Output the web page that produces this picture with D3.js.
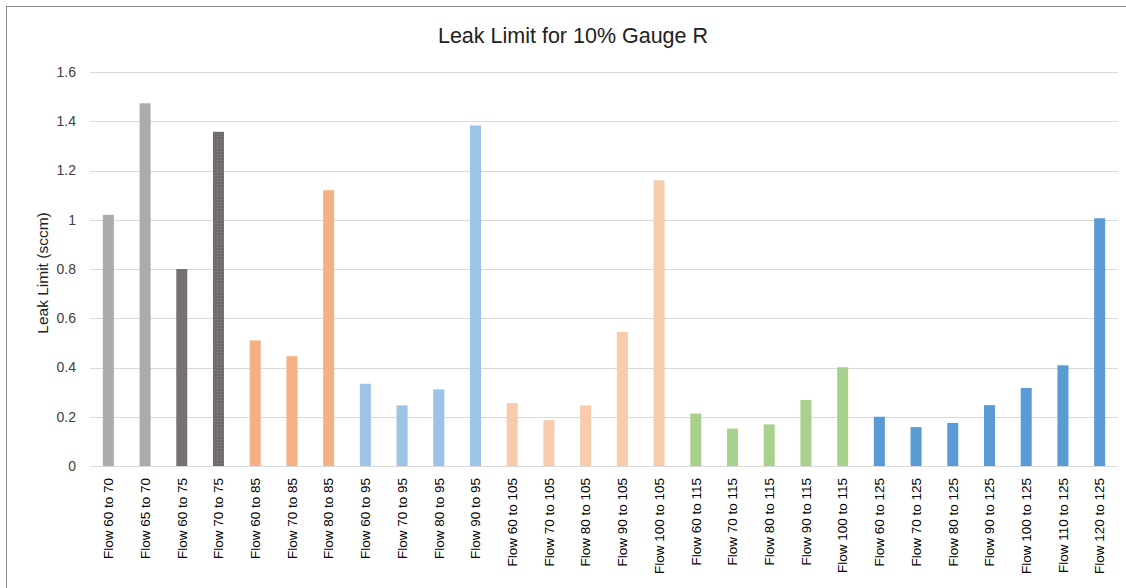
<!DOCTYPE html>
<html><head><meta charset="utf-8">
<script src="https://cdn.jsdelivr.net/npm/d3@7"></script>
<style>body{margin:0;background:#fff}svg{display:block}text{font-family:"Liberation Sans",Arial,sans-serif}</style>
</head><body>
<svg id="c" width="1126" height="588"></svg>
<script>
const categories = ["Flow 60 to 70","Flow 65 to 70","Flow 60 to 75","Flow 70 to 75","Flow 60 to 85","Flow 70 to 85","Flow 80 to 85","Flow 60 to 95","Flow 70 to 95","Flow 80 to 95","Flow 90 to 95","Flow 60 to 105","Flow 70 to 105","Flow 80 to 105","Flow 90 to 105","Flow 100 to 105","Flow 60 to 115","Flow 70 to 115","Flow 80 to 115","Flow 90 to 115","Flow 100 to 115","Flow 60 to 125","Flow 70 to 125","Flow 80 to 125","Flow 90 to 125","Flow 100 to 125","Flow 110 to 125","Flow 120 to 125"];
const values = [1.02,1.473,0.80,1.357,0.51,0.446,1.12,0.334,0.246,0.311,1.383,0.256,0.186,0.246,0.544,1.16,0.213,0.152,0.169,0.268,0.401,0.20,0.158,0.175,0.247,0.317,0.409,1.006];
const groups = [70,70,75,75,85,85,85,95,95,95,95,105,105,105,105,105,115,115,115,115,115,125,125,125,125,125,125,125];
const groupKeys = [70,75,85,95,105,115,125];
const groupColors = ["#AEAAAA","#767171","#F4B183","#9DC3E6","#F8CBAD","#A9D18E","#5B9BD5"];
const yTicks = [0,0.2,0.4,0.6,0.8,1,1.2,1.4,1.6];
const title = "Leak Limit for 10% Gauge R";
const yTitle = "Leak Limit (sccm)";

const svg = d3.select("#c");
const m = {left:90, right:1118, top:72, bottom:466};
const x = d3.scaleBand().domain(categories).range([m.left, m.right]).paddingInner(0.70).paddingOuter(0.35);
const y = d3.scaleLinear().domain([0,1.6]).range([m.bottom, m.top]);
const color = d3.scaleOrdinal().domain(groupKeys).range(groupColors);

// pattern for the textured bar
const defs = svg.append("defs");
const pat = defs.append("pattern").attr("id","dots").attr("width",3).attr("height",3).attr("patternUnits","userSpaceOnUse");
pat.append("rect").attr("width",3).attr("height",3).attr("fill","#6E6A6A");
pat.append("rect").attr("x",1).attr("y",1).attr("width",1).attr("height",1).attr("fill","#8C8888");

// chart border
svg.append("rect").attr("x",6.5).attr("y",6.5).attr("width",1130).attr("height",600)
  .attr("fill","none").attr("stroke","#8a8a8a").attr("stroke-width",1);

// gridlines + y tick labels
const yAxis = d3.axisLeft(y).tickValues(yTicks).tickSize(-(m.right-m.left)).tickFormat(d3.format("~g")).tickPadding(14);
const ga = svg.append("g").attr("transform",`translate(${m.left},0)`).call(yAxis);
ga.select(".domain").remove();
ga.selectAll(".tick line").attr("stroke","#D9D9D9").attr("stroke-width",1).attr("shape-rendering","crispEdges");
ga.selectAll(".tick text").attr("fill","#404040").attr("font-size",14);

// bars
svg.append("g").selectAll("rect").data(categories).join("rect")
  .attr("x", d => x(d))
  .attr("width", x.bandwidth())
  .attr("y", (d,i) => y(values[i]))
  .attr("height", (d,i) => y(0) - y(values[i]))
  .attr("fill", (d,i) => i === 3 ? "url(#dots)" : color(groups[i]));

// x axis labels
const xAxis = d3.axisBottom(x).tickSize(0).tickPadding(0);
const gx = svg.append("g").attr("transform",`translate(0,${m.bottom})`).call(xAxis);
gx.select(".domain").remove();
gx.selectAll(".tick text")
  .attr("fill","#000").attr("font-size",13.5)
  .attr("text-anchor","end")
  .attr("transform","translate(0,12) rotate(-90)")
  .attr("x",0).attr("y",0).attr("dy","0.35em");

// title
svg.append("text").attr("x",573).attr("y",43).attr("text-anchor","middle")
  .attr("font-size",21.5).attr("fill","#222").text(title);

// y title
svg.append("text").attr("transform",`translate(48,${(m.top+m.bottom)/2 + 4}) rotate(-90)`)
  .attr("text-anchor","middle").attr("font-size",15.5).attr("fill","#222").text(yTitle);
</script>
</body></html>
